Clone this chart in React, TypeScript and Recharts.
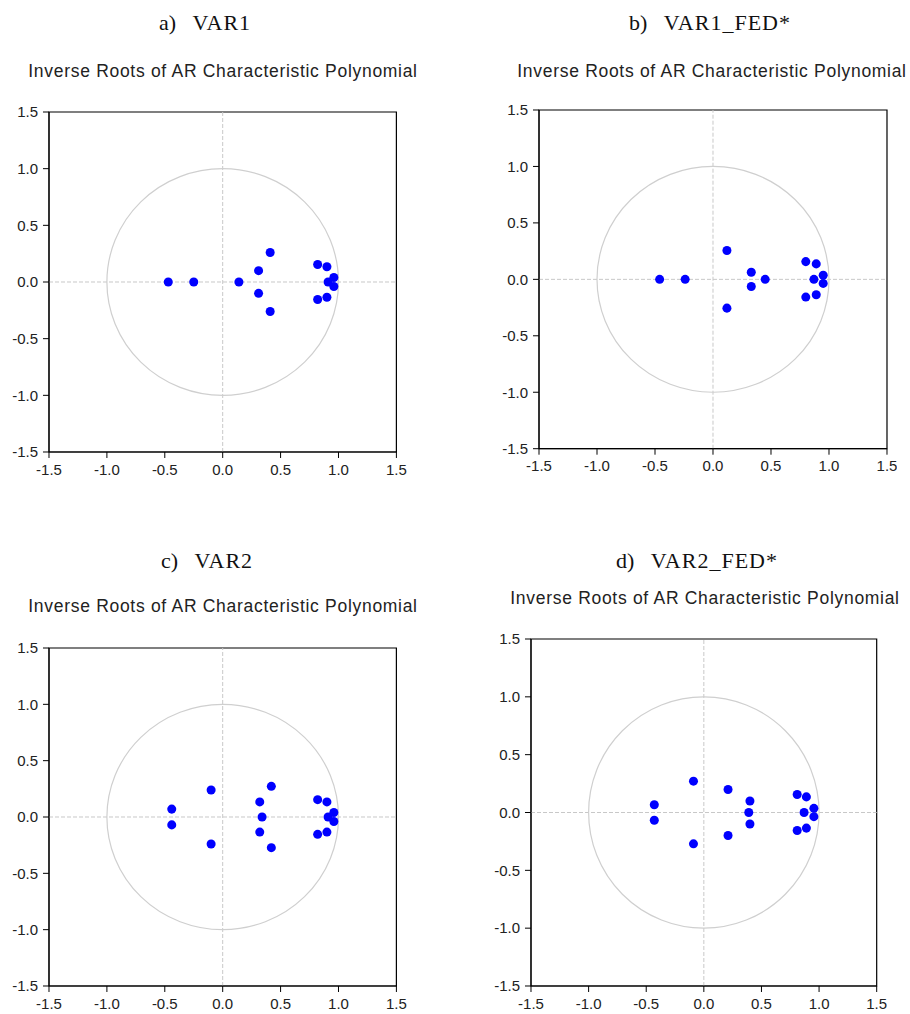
import React from 'react'
import { ReferenceArea, ReferenceDot, ReferenceLine, Scatter, ScatterChart, XAxis, YAxis, ZAxis } from 'recharts'

const var1Real = [-0.47, -0.25, 0.14, 0.31, 0.31, 0.41, 0.41, 0.82, 0.82, 0.9, 0.9, 0.91, 0.96, 0.96]
const var1Imag = [0, 0, 0, 0.1, -0.1, 0.26, -0.26, 0.155, -0.155, 0.135, -0.135, 0, 0.04, -0.04]

const var1FedReal = [-0.46, -0.24, 0.12, 0.12, 0.33, 0.33, 0.45, 0.8, 0.8, 0.89, 0.89, 0.87, 0.95, 0.95]
const var1FedImag = [0, 0, 0.255, -0.255, 0.063, -0.063, 0, 0.157, -0.157, 0.137, -0.137, 0, 0.036, -0.036]

const var2Real = [-0.44, -0.44, -0.1, -0.1, 0.32, 0.32, 0.34, 0.42, 0.42, 0.82, 0.82, 0.9, 0.9, 0.91, 0.96, 0.96]
const var2Imag = [0.07, -0.07, 0.24, -0.24, 0.134, -0.134, 0, 0.272, -0.272, 0.154, -0.154, 0.134, -0.134, 0, 0.04, -0.04]

const var2FedReal = [-0.43, -0.43, -0.09, -0.09, 0.21, 0.21, 0.4, 0.4, 0.39, 0.81, 0.81, 0.89, 0.89, 0.87, 0.955, 0.955]
const var2FedImag = [0.067, -0.067, 0.271, -0.271, 0.199, -0.199, 0.1, -0.1, 0, 0.156, -0.156, 0.135, -0.135, 0, 0.036, -0.036]

const TICKS = [-1.5, -1, -0.5, 0, 0.5, 1, 1.5]
const SUBTITLE = 'Inverse Roots of AR Characteristic Polynomial'

const SANS = '"Liberation Sans", Arial, sans-serif'
const SERIF = '"Liberation Serif", "Times New Roman", serif'

const panels = [
  { label: 'a)', name: 'VAR1', real: var1Real, imag: var1Imag,
    box: { x0: 49.3, x1: 396.7, y0: 112, y1: 452 }, titleX: 205, titleY: 23, subX: 223, subY: 72 },
  { label: 'b)', name: 'VAR1_FED*', real: var1FedReal, imag: var1FedImag,
    box: { x0: 538.7, x1: 886.7, y0: 110, y1: 448.7 }, titleX: 710, titleY: 23, subX: 712, subY: 72 },
  { label: 'c)', name: 'VAR2', real: var2Real, imag: var2Imag,
    box: { x0: 49.3, x1: 396.7, y0: 647.7, y1: 985.7 }, titleX: 207, titleY: 561, subX: 223, subY: 607 },
  { label: 'd)', name: 'VAR2_FED*', real: var2FedReal, imag: var2FedImag,
    box: { x0: 531.3, x1: 877, y0: 638.7, y1: 985.7 }, titleX: 697, titleY: 561, subX: 705, subY: 599 },
]

const fmt = (v: number) => v.toFixed(1)
const tickStyle = { fill: '#222', fontSize: 15, fontFamily: SANS }

function RootsPanel({ p }: { p: typeof panels[number] }) {
  const { box } = p
  const plotW = box.x1 - box.x0
  const plotH = box.y1 - box.y0
  const data = p.real.map((re, i) => ({ re, im: p.imag[i] }))
  return (
    <>
      <div style={{
        position: 'absolute', left: p.titleX, top: p.titleY, transform: 'translate(-50%, -50%)',
        fontFamily: SERIF, fontSize: 22, whiteSpace: 'pre', color: '#111', lineHeight: 1,
      }}>
        {p.label}{'   '}<span style={{ letterSpacing: 1 }}>{p.name}</span>
      </div>
      <div style={{
        position: 'absolute', left: p.subX, top: p.subY, transform: 'translate(-50%, -50%)',
        fontFamily: SANS, fontSize: 17.5, letterSpacing: 0.7, whiteSpace: 'nowrap', color: '#222', lineHeight: 1,
      }}>
        {SUBTITLE}
      </div>
      <div style={{ position: 'absolute', left: box.x0 - 50, top: box.y0 - 10 }}>
        <ScatterChart width={plotW + 60} height={plotH + 50} margin={{ top: 10, right: 10, bottom: 10, left: 10 }}>
          <XAxis type="number" dataKey="re" domain={[-1.5, 1.5]} ticks={TICKS} tickFormatter={fmt}
            height={30} tickSize={6} tickMargin={6} stroke="#000" tick={tickStyle} interval={0} allowDataOverflow />
          <YAxis type="number" dataKey="im" domain={[-1.5, 1.5]} ticks={TICKS} tickFormatter={fmt}
            width={40} tickSize={6} tickMargin={5} stroke="#000" tick={tickStyle} interval={0} allowDataOverflow />
          <ZAxis range={[32, 32]} />
          <ReferenceLine x={0} stroke="#c8c8c8" strokeDasharray="4 2" />
          <ReferenceLine y={0} stroke="#c8c8c8" strokeDasharray="4 2" />
          <ReferenceDot x={0} y={0} r={1} shape={(d: any) => (
            <ellipse cx={d.cx} cy={d.cy} rx={plotW / 3} ry={plotH / 3} fill="none" stroke="#cfcfcf" strokeWidth={1.2} />
          )} />
          <ReferenceArea x1={-1.5} x2={1.5} y1={-1.5} y2={1.5} fill="none" stroke="#000" strokeWidth={1.2} />
          <Scatter data={data} fill="#0000ff" isAnimationActive={false} />
        </ScatterChart>
      </div>
    </>
  )
}

export default function App() {
  return (
    <div style={{ position: 'absolute', left: 0, top: 0, width: 910, height: 1014, background: '#fff' }}>
      {panels.map(p => <RootsPanel key={p.label} p={p} />)}
    </div>
  )
}
